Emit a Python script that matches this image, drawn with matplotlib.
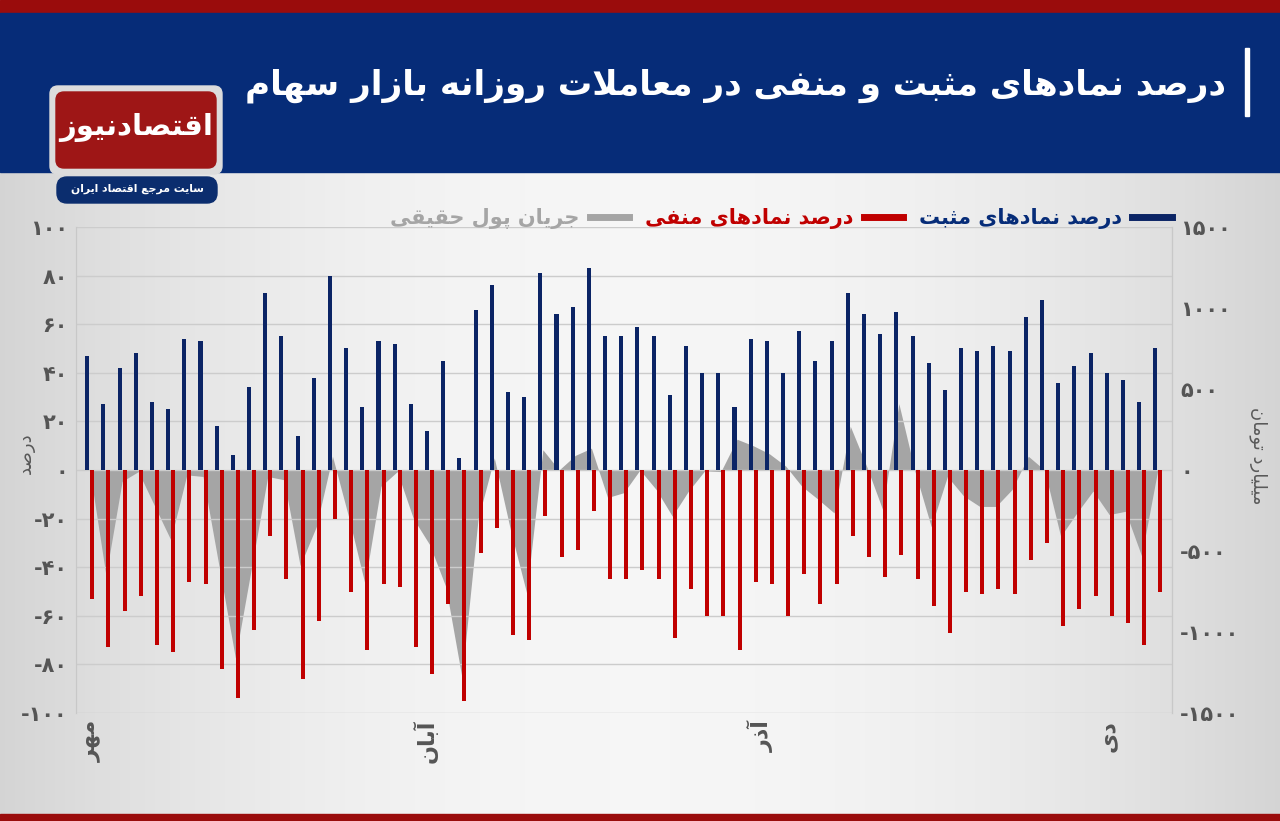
import numpy as np
import matplotlib.pyplot as plt
from matplotlib.patches import FancyBboxPatch, Rectangle
from matplotlib.lines import Line2D

# percent of positive / negative symbols per trading day (Mehr .. Dey)
positive = [47, 27, 42, 48, 28, 25, 54, 53, 18, 6, 34, 73, 55, 14, 38, 80, 50, 26, 53, 52, 27, 16,
            45, 5, 66, 76, 32, 30, 81, 64, 67, 83, 55, 55, 59, 55, 31, 51, 40, 40, 26, 54, 53, 40,
            57, 45, 53, 73, 64, 56, 65, 55, 44, 33, 50, 49, 51, 49, 63, 70, 36, 43, 48, 40, 37, 28, 50]
negative = [-53, -73, -58, -52, -72, -75, -46, -47, -82, -94, -66, -27, -45, -86, -62, -20, -50, -74,
            -47, -48, -73, -84, -55, -95, -34, -24, -68, -70, -19, -36, -33, -17, -45, -45, -41, -45,
            -69, -49, -60, -60, -74, -46, -47, -60, -43, -55, -47, -27, -36, -44, -35, -45, -56, -67,
            -50, -51, -49, -51, -37, -30, -64, -57, -52, -60, -63, -72, -50]
# real money flow, billion toman (right axis)
money_flow = [0, -650, -70, -10, -220, -430, -30, -40, -600, -1160, -600, -40, -60, -590, -350, 85,
              -290, -700, -100, -10, -300, -460, -720, -1280, -300, 75, -370, -760, 125, 0, 90, 135,
              -170, -140, 0, -120, -285, -130, -5, -10, 190, 150, 100, 25, -100, -180, -265, 270,
              25, -245, 410, -10, -350, -40, -160, -225, -225, -120, 85, 0, -410, -265, -130, -275,
              -255, -530, 0]

month_labels = ["مهر", "آبان", "آذر", "دی"]
month_pos = [0.05, 20.7, 41.5, 62.9]
left_ticks = [100, 80, 60, 40, 20, 0, -20, -40, -60, -80, -100]
right_ticks = [1500, 1000, 500, 0, -500, -1000, -1500]

title = "درصد نمادهای مثبت و منفی در معاملات روزانه بازار سهام"
legend_labels = ["جریان پول حقیقی", "درصد نمادهای منفی", "درصد نمادهای مثبت"]
left_title = "درصد"
right_title = "میلیارد تومان"
logo_text = "اقتصادنیوز"
logo_sub = "سایت مرجع اقتصاد ایران"

NAVY = "#062c78"
BLUE = "#0b2465"
RED = "#c00000"
GRAY = "#a5a5a5"
DARKRED = "#9a0c0c"

# --- minimal Persian shaping (matplotlib has no complex text layout) ---
FORMS = {
    'ا': 'ﺍﺎ', 'آ': 'ﺁﺂ', 'د': 'ﺩﺪ', 'ذ': 'ﺫﺬ', 'ر': 'ﺭﺮ', 'ز': 'ﺯﺰ', 'و': 'ﻭﻮ',
    'ب': 'ﺏﺐﺑﺒ', 'پ': 'ﭖﭗﭘﭙ', 'ت': 'ﺕﺖﺗﺘ', 'ث': 'ﺙﺚﺛﺜ', 'ج': 'ﺝﺞﺟﺠ', 'ح': 'ﺡﺢﺣﺤ',
    'س': 'ﺱﺲﺳﺴ', 'ص': 'ﺹﺺﺻﺼ', 'ع': 'ﻉﻊﻋﻌ', 'ف': 'ﻑﻒﻓﻔ', 'ق': 'ﻕﻖﻗﻘ', 'ل': 'ﻝﻞﻟﻠ',
    'م': 'ﻡﻢﻣﻤ', 'ن': 'ﻥﻦﻧﻨ', 'ه': 'ﻩﻪﻫﻬ', 'ی': 'ﯼﯽﯾﯿ',
}
LAM_ALEF = {'ا': 'ﻻﻼ', 'آ': 'ﻵﻶ'}


def fa(text):
    out = []
    chars = list(text)
    i = 0
    prev_joins = False
    while i < len(chars):
        c = chars[i]
        if c not in FORMS:
            out.append(c)
            prev_joins = False
            i += 1
            continue
        if c == 'ل' and i + 1 < len(chars) and chars[i + 1] in LAM_ALEF:
            out.append(LAM_ALEF[chars[i + 1]][1 if prev_joins else 0])
            prev_joins = False
            i += 2
            continue
        f = FORMS[c]
        nxt = chars[i + 1] if i + 1 < len(chars) else None
        joins_next = len(f) == 4 and nxt in FORMS
        if prev_joins and joins_next:
            g = f[3]
        elif prev_joins:
            g = f[1]
        elif joins_next:
            g = f[2]
        else:
            g = f[0]
        out.append(g)
        prev_joins = joins_next
        i += 1
    return ''.join(reversed(out))


def fa_num(v):
    digits = str(abs(v)).translate(str.maketrans('0123456789', '۰۱۲۳۴۵۶۷۸۹'))
    return ('-' if v < 0 else '') + digits


plt.rcParams['font.family'] = ['DejaVu Sans']
W, H = 1280, 821
fig = plt.figure(figsize=(W / 100, H / 100), dpi=100)

# background + header drawn in pixel coordinates
bg = fig.add_axes([0, 0, 1, 1])
bg.set_xlim(0, W)
bg.set_ylim(H, 0)
bg.axis('off')
bg.set_zorder(0)
xs = np.linspace(-1, 1, 256)
shade = 0.965 - 0.13 * xs ** 2
grad = np.dstack([shade, shade, shade])[0][None, :, :]
bg.imshow(np.repeat(grad, 2, axis=0), extent=(0, W, H, 0), aspect='auto')
bg.add_patch(Rectangle((0, 0), W, 13, color=DARKRED))
bg.add_patch(Rectangle((0, 13), W, 159, color=NAVY))
bg.add_patch(Rectangle((0, 814), W, 7, color=DARKRED))
bg.add_patch(Rectangle((1245, 48), 4, 68, color='white'))
bg.text(1226, 86, fa(title), color='white', fontsize=24.7, fontweight='bold', ha='right', va='center')

# logo
bg.add_patch(FancyBboxPatch((50, 86), 172, 88, boxstyle='round,pad=0,rounding_size=8', color='#dcdcdc'))
bg.add_patch(FancyBboxPatch((56, 92), 160, 76, boxstyle='round,pad=0,rounding_size=8', color='#9e1616'))
bg.text(136, 128, fa(logo_text), color='white', fontsize=21, fontweight='bold', ha='center', va='center')
bg.add_patch(FancyBboxPatch((57, 177), 160, 26, boxstyle='round,pad=0,rounding_size=10', color='#0b2d6e'))
bg.text(137, 189, fa(logo_sub), color='white', fontsize=7.8, fontweight='bold', ha='center', va='center')

# axis titles
bg.text(26, 453, fa(left_title), color='#595959', fontsize=13, rotation=90, ha='center', va='center')
bg.text(1258, 456, fa(right_title), color='#595959', fontsize=13, rotation=-90, ha='center', va='center')

# chart axes
ax_rect = [76 / W, (H - 713) / H, (1172 - 76) / W, (713 - 227) / H]
ax = fig.add_axes(ax_rect)
ax2 = ax.twinx()
ax.set_zorder(3)
ax2.set_zorder(2)
ax.patch.set_visible(False)
ax2.patch.set_visible(False)

x = np.arange(len(positive))
ax2.fill_between(x, 0, money_flow, color=GRAY, lw=0)
ax.bar(x - 0.155, positive, width=0.25, color=BLUE)
ax.bar(x + 0.155, negative, width=0.25, color=RED)

ax.set_xlim(-0.85, len(positive) - 1 + 0.88)
ax.set_ylim(-100, 100)
ax2.set_ylim(-1500, 1500)

ax.set_yticks(left_ticks)
ax.set_yticklabels([fa_num(v) for v in left_ticks])
ax2.set_yticks(right_ticks)
ax2.set_yticklabels([fa_num(v) for v in right_ticks])
ax.set_xticks(month_pos)
ax.set_xticklabels([fa(m) for m in month_labels], rotation=90, va='top', ha='center')

ax.grid(axis='y', color='#cccccc', lw=1)
ax.set_axisbelow(True)
for a in (ax, ax2):
    a.tick_params(length=0)
    for s in ('top', 'bottom'):
        a.spines[s].set_visible(False)
    a.spines['left'].set_color('#c8c8c8')
    a.spines['right'].set_color('#c8c8c8')
ax.tick_params(axis='y', labelsize=15, labelcolor='#555555', pad=6)
ax2.tick_params(axis='y', labelsize=15, labelcolor='#555555', pad=6)
ax.tick_params(axis='x', labelsize=16, labelcolor='#555555', pad=5)
for t in ax.get_yticklabels() + ax2.get_yticklabels() + ax.get_xticklabels():
    t.set_fontweight('bold')

# legend (right-to-left order, handle to the right of the text)
handles = [Line2D([], [], color=GRAY, lw=5), Line2D([], [], color=RED, lw=5), Line2D([], [], color=BLUE, lw=5)]
leg = ax.legend(handles, [fa(l) for l in legend_labels], ncol=3, markerfirst=False, frameon=False,
                loc='lower right', bbox_to_anchor=(1.0, 0.995), prop={'size': 15, 'weight': 'bold'},
                handlelength=1.9, handletextpad=0.5, columnspacing=0.75, borderaxespad=0, borderpad=0)
for t, c in zip(leg.get_texts(), [GRAY, RED, NAVY]):
    t.set_color(c)

fig.savefig('out.png', dpi=100)
